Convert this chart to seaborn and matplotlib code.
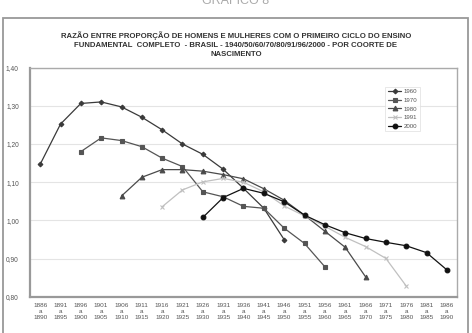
import numpy as np
import pandas as pd
import seaborn as sns
import matplotlib
matplotlib.use("Agg")
import matplotlib.pyplot as plt
from matplotlib.patches import Rectangle
from matplotlib.ticker import FuncFormatter

# Cohorts (birth periods)
cohort_start = [1886, 1891, 1896, 1901, 1906, 1911, 1916, 1921, 1926, 1931, 1936,
                1941, 1946, 1951, 1956, 1961, 1966, 1971, 1976, 1981, 1986]
cohort_labels = [f"{s}\na\n{s + 4}" for s in cohort_start]

# Ratio by census year (first index = position of first cohort in each series)
r1960 = [1.147, 1.252, 1.306, 1.310, 1.297, 1.270, 1.237, 1.200, 1.173, 1.134,
         1.084, 1.032, 0.950]
r1970 = [1.180, 1.216, 1.209, 1.193, 1.163, 1.141, 1.075, 1.062, 1.037, 1.032,
         0.980, 0.940, 0.879]
r1980 = [1.064, 1.113, 1.133, 1.133, 1.129, 1.120, 1.109, 1.083, 1.053, 1.014,
         0.972, 0.930, 0.853]
r1991 = [1.036, 1.080, 1.101, 1.110, 1.100, 1.075, 1.038, 1.012, 0.985, 0.956,
         0.932, 0.901, 0.829]
r2000 = [1.008, 1.060, 1.084, 1.071, 1.049, 1.014, 0.989, 0.968, 0.953, 0.943,
         0.934, 0.916, 0.871]
first_idx = {"1960": 0, "1970": 2, "1980": 4, "1991": 6, "2000": 8}

series = {"1960": r1960, "1970": r1970, "1980": r1980, "1991": r1991, "2000": r2000}
styles = {
    "1960": dict(color="#3a3a3a", marker="D", markersize=2.4),
    "1970": dict(color="#555555", marker="s", markersize=3.3),
    "1980": dict(color="#4a4a4a", marker="^", markersize=3.4),
    "1991": dict(color="#c0c0c0", marker="x", markersize=3.2),
    "2000": dict(color="#111111", marker="o", markersize=3.4),
}

sns.set_style("white")
plt.rcParams["font.family"] = ["Liberation Sans", "DejaVu Sans"]

fig = plt.figure(figsize=(4.72, 3.33), dpi=100)
ax = fig.add_axes([30 / 472, 1 - 297 / 333, 427 / 472, 229.5 / 333])

for name, vals in series.items():
    start = first_idx[name]
    df = pd.DataFrame({"x": np.arange(start, start + len(vals)), "y": vals})
    st = styles[name]
    sns.lineplot(data=df, x="x", y="y", ax=ax, color=st["color"], marker=st["marker"],
                 markersize=st["markersize"], markeredgecolor=st["color"],
                 markeredgewidth=0.8, linewidth=0.9, label=name)

ax.set_xlim(-0.5, 20.5)
ax.set_ylim(0.80, 1.40)
ax.set_yticks(np.arange(0.80, 1.401, 0.10))
ax.yaxis.set_major_formatter(FuncFormatter(lambda v, p: f"{v:.2f}".replace(".", ",")))
ax.set_xticks(range(len(cohort_labels)))
ax.set_xticklabels(cohort_labels, fontsize=4.6, color="#555555", linespacing=1.25)
ax.tick_params(axis="y", labelsize=4.8, labelcolor="#555555", length=0, pad=8)
ax.tick_params(axis="x", length=0, pad=4)
ax.set_xlabel("")
ax.set_ylabel("")
ax.yaxis.grid(True, color="#e4e4e4", linewidth=0.8)
ax.set_axisbelow(True)
for side in ["top", "right"]:
    ax.spines[side].set_color("#aaaaaa")
    ax.spines[side].set_linewidth(1.0)
for side in ["left", "bottom"]:
    ax.spines[side].set_color("#999999")
    ax.spines[side].set_linewidth(1.6)

leg = ax.legend(loc="upper right", bbox_to_anchor=(0.92, 0.93), fontsize=4.4,
                frameon=True, fancybox=False, handlelength=2.2, handletextpad=0.4,
                borderpad=0.4, labelspacing=0.55)
leg.get_frame().set_edgecolor("#dddddd")
leg.get_frame().set_linewidth(0.6)
for t in leg.get_texts():
    t.set_color("#555555")

title = ("RAZÃO ENTRE PROPORÇÃO DE HOMENS E MULHERES COM O PRIMEIRO CICLO DO ENSINO\n"
         "FUNDAMENTAL  COMPLETO  - BRASIL - 1940/50/60/70/80/91/96/2000 - POR COORTE DE\n"
         "NASCIMENTO")
fig.text(0.5, 1 - 44.5 / 333, title, ha="center", va="center", fontsize=5.6,
         fontweight="bold", color="#333333", linespacing=1.4)

fig.text(0.5, 1 - 4 / 333, "GRÁFICO 8", ha="center", va="baseline", fontsize=9,
         color="#aaaaaa", fontweight="light")

fig.patches.append(Rectangle((3 / 472, -0.05), 465 / 472, 1.05 - 18 / 333,
                             transform=fig.transFigure, fill=False,
                             edgecolor="#999999", linewidth=1.3))

plt.savefig("out.png", dpi=100)
